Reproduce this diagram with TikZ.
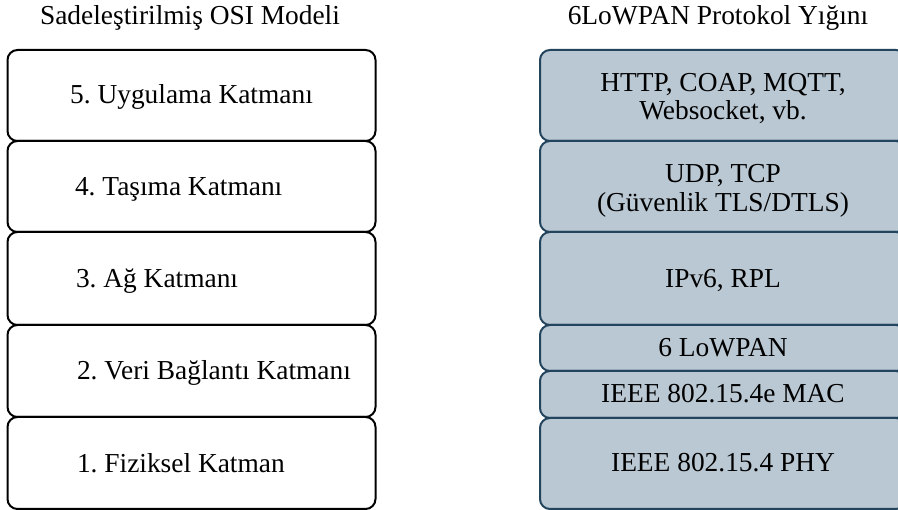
\documentclass[tikz,border=0pt]{standalone}
\usepackage{fontspec}
\setmainfont{Liberation Serif}
\frenchspacing
\definecolor{stackfill}{HTML}{BAC8D3}
\definecolor{stackline}{HTML}{23445D}
\begin{document}
\begin{tikzpicture}[x=1pt,y=-1pt,
  every node/.style={font=\fontsize{27.4}{28.6}\selectfont, inner sep=0pt, outer sep=0pt},
  osibox/.style={draw=black, line width=2pt, rounded corners=10pt, fill=white},
  stackbox/.style={draw=stackline, line width=2pt, rounded corners=10pt, fill=stackfill}
]
\clip (0,0) rectangle (898,510);
\fill[white] (0,0) rectangle (898,510);

% column titles
\node[anchor=base] (osititle) at (190,25) {Sadeleştirilmiş OSI Modeli};
\node[anchor=base] (stacktitle) at (718,25) {6LoWPAN Protokol Yığını};

% simplified OSI model
\draw[osibox] (7.5,50) rectangle (375.5,141);
\draw[osibox] (7.5,141) rectangle (375.5,232);
\draw[osibox] (7.5,232) rectangle (375.5,325);
\draw[osibox] (7.5,325) rectangle (375.5,417);
\draw[osibox] (7.5,417) rectangle (375.5,509);
\node[anchor=base] (osi5) at (191.5,104) {5. Uygulama Katmanı};
\node[anchor=base west] (osi4) at (75,196) {4. Taşıma Katmanı};
\node[anchor=base west] (osi3) at (76,288) {3. Ağ Katmanı};
\node[anchor=base west] (osi2) at (77,380) {2. Veri Bağlantı Katmanı};
\node[anchor=base west] (osi1) at (77,473) {1. Fiziksel Katman};

% 6LoWPAN protocol stack
\draw[stackbox] (540,50) rectangle (906,141);
\draw[stackbox] (540,141) rectangle (906,232);
\draw[stackbox] (540,232) rectangle (906,325);
\draw[stackbox] (540,325) rectangle (906,371);
\draw[stackbox] (540,371) rectangle (906,418);
\draw[stackbox] (540,418) rectangle (906,509);
\node[anchor=base] (app1) at (723,92) {HTTP, COAP, MQTT,};
\node[anchor=base] (app2) at (723,120) {Websocket, vb.};
\node[anchor=base] (tr1) at (723,183) {UDP, TCP};
\node[anchor=base] (tr2) at (723,212) {(Güvenlik TLS/DTLS)};
\node[anchor=base] (net) at (723,288) {IPv6, RPL};
\node[anchor=base] (adapt) at (723,357) {6 LoWPAN};
\node[anchor=base] (mac) at (723,403) {IEEE 802.15.4e MAC};
\node[anchor=base] (phy) at (723,472) {IEEE 802.15.4 PHY};
\end{tikzpicture}
\end{document}
